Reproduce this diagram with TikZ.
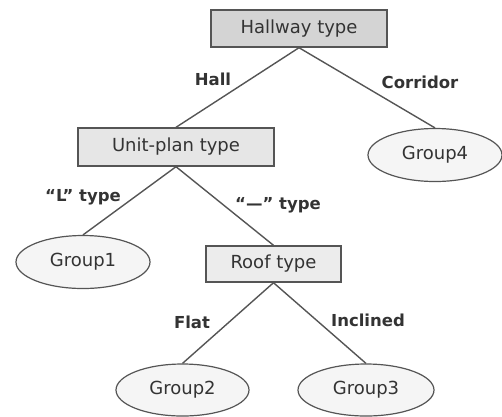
\documentclass[tikz,border=0pt]{standalone}
\usepackage{fontspec}
\setmainfont{DejaVu Sans}
\usetikzlibrary{shapes.geometric}
\definecolor{linegray}{HTML}{555555}
\definecolor{txt}{HTML}{333333}
\definecolor{boxA}{HTML}{D4D4D4}
\definecolor{boxB}{HTML}{E6E6E6}
\definecolor{boxC}{HTML}{ECECEC}
\definecolor{ellfill}{HTML}{F5F5F5}
\begin{document}
\begin{tikzpicture}[x=1pt,y=-1pt,
  box/.style={draw=linegray,line width=1.4pt,rectangle,inner sep=0pt,font=\fontsize{18}{20}\selectfont,text=txt},
  grp/.style={draw=linegray,line width=1.2pt,ellipse,fill=ellfill,inner sep=0pt,minimum width=134pt,minimum height=53pt,font=\fontsize{18}{20}\selectfont,text=txt},
  edge/.style={draw=linegray,line width=1.4pt},
  lbl/.style={font=\bfseries\fontsize{16.5}{18}\selectfont,text=txt,inner sep=0pt}]
\useasboundingbox (0,0) rectangle (502,416);
\node[box,fill=boxA,minimum width=176pt,minimum height=37pt] (hw) at (299,28.5) {Hallway type};
\node[box,fill=boxB,minimum width=196pt,minimum height=38pt] (up) at (176,147) {Unit-plan type};
\node[box,fill=boxC,minimum width=135pt,minimum height=36pt] (rf) at (273.5,264) {Roof type};
\node[grp] (g4) at (435,155) {Group4};
\node[grp] (g1) at (83,262) {Group1};
\node[grp,minimum width=133pt,minimum height=52pt] (g2) at (182.5,390) {Group2};
\node[grp,minimum width=136pt,minimum height=52pt] (g3) at (366,390) {Group3};
\draw[edge] (hw.south) -- (up.north);
\draw[edge] (hw.south) -- (g4.north);
\draw[edge] (up.south) -- (g1.north);
\draw[edge] (up.south) -- (rf.north);
\draw[edge] (rf.south) -- (g2.north);
\draw[edge] (rf.south) -- (g3.north);
\node[lbl] (lhall) at (213,79) {Hall};
\node[lbl] (lcor) at (420,82) {Corridor};
\node[lbl] (ll) at (83,197) {“L” type};
\node[lbl] (ldash) at (278,205) {“—” type};
\node[lbl] (lflat) at (192,322) {Flat};
\node[lbl] (linc) at (368,320) {Inclined};
\end{tikzpicture}
\end{document}
